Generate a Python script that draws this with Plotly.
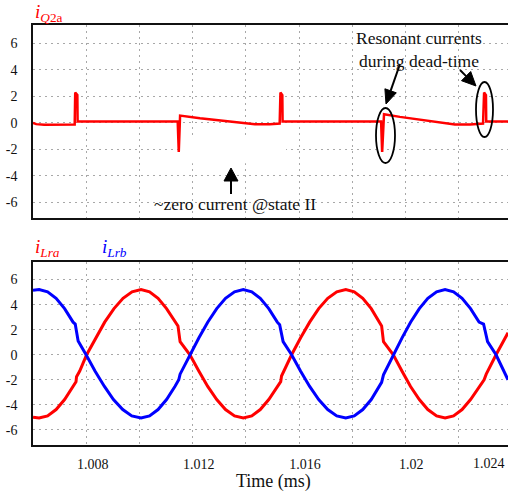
import plotly.graph_objects as go

# ---------------- data ----------------
# top panel: switch current i_Q2a
t_q2a = [1.00598, 1.00610, 1.00640, 1.00700, 1.00755, 1.00757, 1.00765, 1.00766,
         1.01143, 1.01147, 1.01152, 1.01227, 1.01302, 1.01378, 1.01434, 1.01490,
         1.01527, 1.01530, 1.01537, 1.01538, 1.01909, 1.01913, 1.01920, 1.01980,
         1.02056, 1.02131, 1.02187, 1.02244, 1.02293, 1.02297, 1.02304, 1.02305,
         1.02387]
i_q2a = [0.0, -0.1, -0.15, -0.15, -0.12, 2.3, 2.1, 0.1,
         0.1, -2.2, 0.55, 0.35, 0.17, 0.0, -0.1, -0.1,
         -0.05, 2.3, 2.1, 0.1, 0.1, -2.2, 0.65, 0.45,
         0.25, 0.0, -0.12, -0.12, -0.05, 2.3, 2.1, 0.1,
         0.1]

# bottom panel: resonant inductor currents
t_lra = [1.00598, 1.00621, 1.00653, 1.00685, 1.00717, 1.00749, 1.00760, 1.00762,
         1.00774, 1.00800, 1.00834, 1.00868, 1.00903, 1.00937, 1.00971, 1.01005,
         1.01037, 1.01069, 1.01101, 1.01133, 1.01144, 1.01152, 1.01189, 1.01223,
         1.01256, 1.01290, 1.01323, 1.01357, 1.01390, 1.01422, 1.01454, 1.01486,
         1.01518, 1.01531, 1.01534, 1.01572, 1.01606, 1.01640, 1.01674, 1.01708,
         1.01742, 1.01776, 1.01808, 1.01840, 1.01872, 1.01904, 1.01911, 1.01918,
         1.01955, 1.01988, 1.02020, 1.02053, 1.02085, 1.02118, 1.02150, 1.02182,
         1.02214, 1.02246, 1.02278, 1.02297, 1.02305, 1.02342, 1.02387]
i_lra = [-4.98, -5.05, -4.88, -4.37, -3.57, -2.52, -2.15, -1.75,
         -1.3, 0.0, 1.35, 2.6, 3.68, 4.5, 5.02, 5.2,
         5.02, 4.5, 3.68, 2.6, 2.3, 1.05, 0.0, -1.31,
         -2.53, -3.57, -4.37, -4.88, -5.05, -4.88, -4.37, -3.57,
         -2.52, -2.15, -1.7, 0.0, 1.35, 2.6, 3.68, 4.5,
         5.02, 5.2, 5.02, 4.5, 3.68, 2.6, 2.3, 1.05,
         0.0, -1.31, -2.53, -3.57, -4.37, -4.88, -5.05, -4.88,
         -4.37, -3.57, -2.52, -2.0, -1.55, 0.0, 1.75]

t_lrb = [1.00598, 1.00621, 1.00653, 1.00685, 1.00717, 1.00749, 1.00757, 1.00768,
         1.00798, 1.00832, 1.00867, 1.00901, 1.00936, 1.00970, 1.01005, 1.01037,
         1.01069, 1.01101, 1.01133, 1.01147, 1.01152, 1.01189, 1.01223, 1.01256,
         1.01290, 1.01323, 1.01357, 1.01390, 1.01422, 1.01454, 1.01486, 1.01518,
         1.01527, 1.01540, 1.01572, 1.01606, 1.01640, 1.01674, 1.01708, 1.01742,
         1.01776, 1.01808, 1.01840, 1.01872, 1.01904, 1.01911, 1.01918, 1.01955,
         1.01988, 1.02020, 1.02053, 1.02085, 1.02118, 1.02150, 1.02182, 1.02214,
         1.02246, 1.02278, 1.02295, 1.02310, 1.02342, 1.02387]
i_lrb = [5.15, 5.2, 5.02, 4.5, 3.68, 2.6, 2.45, 1.1,
         0.0, -1.31, -2.53, -3.57, -4.37, -4.88, -5.05, -4.88,
         -4.37, -3.57, -2.52, -2.0, -1.55, 0.0, 1.35, 2.6,
         3.68, 4.5, 5.02, 5.2, 5.02, 4.5, 3.68, 2.6,
         2.4, 1.05, 0.0, -1.31, -2.53, -3.57, -4.37, -4.88,
         -5.05, -4.88, -4.37, -3.57, -2.52, -2.2, -1.6, 0.0,
         1.35, 2.6, 3.68, 4.5, 5.02, 5.2, 5.02, 4.5,
         3.68, 2.6, 2.45, 1.05, 0.0, -2.0]

x_tickvals = [1.008, 1.012, 1.016, 1.020]
x_ticktext = ["1.008", "1.012", "1.016", "1.02"]
x_last_label = "1.024"
y_tickvals = [-6, -4, -2, 0, 2, 4, 6]
y_ticktext = ["-6", "-4", "-2", "0", "2", "4", "6"]

# ---------------- figure ----------------
W, H = 508, 492
ML, MR, MT, MB = 33, 0, 25, 47
PW, PH = W - ML - MR, H - MT - MB


def px(xp):
    return (xp - ML) / PW


def py(yp):
    return (H - MB - yp) / PH


SERIF = "Liberation Serif, Times New Roman, serif"
RED = "#ff0000"
BLUE = "#0000ff"
GRID = "#a8a8a8"
INK = "#111111"

fig = go.Figure()
fig.add_trace(go.Scatter(x=t_q2a, y=i_q2a, mode="lines", xaxis="x", yaxis="y",
                         line=dict(color=RED, width=2.5), showlegend=False))
fig.add_trace(go.Scatter(x=t_lra, y=i_lra, mode="lines", xaxis="x2", yaxis="y2",
                         line=dict(color=RED, width=3), showlegend=False))
fig.add_trace(go.Scatter(x=t_lrb, y=i_lrb, mode="lines", xaxis="x2", yaxis="y2",
                         line=dict(color=BLUE, width=3), showlegend=False))

xrange = [1.00598, 1.02387]
yrange = [-7.2, 7.4]

xcommon = dict(range=xrange, tickvals=x_tickvals, showgrid=True, gridcolor=GRID,
               griddash="2px,4px", gridwidth=1, showline=True, linecolor=INK,
               linewidth=1.5, mirror=True, zeroline=False, ticks="",
               minor=dict(tick0=1.008, dtick=0.002, showgrid=True, gridcolor=GRID,
                          griddash="2px,4px", gridwidth=1, ticks=""))
ycommon = dict(range=yrange, tickvals=y_tickvals, ticktext=y_ticktext, showgrid=True,
               gridcolor=GRID, griddash="2px,4px", gridwidth=1, showline=True,
               linecolor=INK, linewidth=1.5, zeroline=False, ticks="",
               ticklabelstandoff=11, tickfont=dict(family=SERIF, size=14, color=INK))

top_dom = [py(218), 1.0]
bot_dom = [0.0, py(262)]

fig.update_layout(
    width=W, height=H,
    margin=dict(l=ML, r=MR, t=MT, b=MB),
    plot_bgcolor="white", paper_bgcolor="white",
    xaxis=dict(**xcommon, anchor="y", showticklabels=False),
    yaxis=dict(**ycommon, domain=top_dom, anchor="x"),
    xaxis2=dict(**xcommon, anchor="y2", ticktext=x_ticktext, showticklabels=True,
                ticklabelshift=6, ticklabelstandoff=5,
                tickfont=dict(family=SERIF, size=14, color=INK)),
    yaxis2=dict(**ycommon, domain=bot_dom, anchor="x2"),
)

# white patch in the top panel (covers grid as in the reference)
fig.add_shape(type="rect", xref="x", yref="y", x0=1.01163, x1=1.01551, y0=-3.05, y1=-0.98,
              fillcolor="white", line=dict(width=0), layer="between")

ann = []
# panel labels
ann.append(dict(text="<i>i</i><sub><i>Q</i>2a</sub>", x=px(33), y=py(13), xref="paper", yref="paper",
                xanchor="left", yanchor="middle", showarrow=False,
                font=dict(family=SERIF, size=19, color=RED)))
ann.append(dict(text="<i>i<sub>Lra</sub></i>", x=px(33), y=py(248), xref="paper", yref="paper",
                xanchor="left", yanchor="middle", showarrow=False,
                font=dict(family=SERIF, size=19, color=RED)))
ann.append(dict(text="<i>i<sub>Lrb</sub></i>", x=px(100), y=py(248), xref="paper", yref="paper",
                xanchor="left", yanchor="middle", showarrow=False,
                font=dict(family=SERIF, size=19, color=BLUE)))
# axis title and clipped last tick label
ann.append(dict(text="Time (ms)", x=px(273), y=py(482), xref="paper", yref="paper",
                xanchor="center", yanchor="middle", showarrow=False,
                font=dict(family=SERIF, size=18, color=INK)))
ann.append(dict(text=x_last_label, x=px(489), y=py(463), xref="paper", yref="paper",
                xanchor="center", yanchor="middle", showarrow=False,
                font=dict(family=SERIF, size=14, color=INK)))
# text notes
ann.append(dict(text="~zero current @state II", x=px(234.5), y=py(204), xref="paper", yref="paper",
                xanchor="center", yanchor="middle", showarrow=False,
                font=dict(family=SERIF, size=17.5, color=INK)))
ann.append(dict(text="Resonant currents<br>during dead-time", x=px(419), y=py(49),
                xref="paper", yref="paper", xanchor="center", yanchor="middle",
                showarrow=False, font=dict(family=SERIF, size=17.5, color=INK)))
fig.update_layout(annotations=ann)

# arrows drawn as shapes: (tail, base-of-head, tip, half-width direction)
arrows = [
    ((231, 194), (231, 181), (231, 168), (7, 0)),
    ((400, 64), (390.6, 90.8), (386, 104), (5.7, 2.0)),
    ((460, 70), (466.1, 76.1), (476, 86), (-4.6, 4.6)),
]
for tail, base, tip, hw in arrows:
    fig.add_shape(type="line", xref="paper", yref="paper",
                  x0=px(tail[0]), y0=py(tail[1]), x1=px(base[0]), y1=py(base[1]),
                  line=dict(color="#000", width=2))
    c1 = (base[0] + hw[0], base[1] + hw[1])
    c2 = (base[0] - hw[0], base[1] - hw[1])
    path = "M {:.5f},{:.5f} L {:.5f},{:.5f} L {:.5f},{:.5f} Z".format(
        px(tip[0]), py(tip[1]), px(c1[0]), py(c1[1]), px(c2[0]), py(c2[1]))
    fig.add_shape(type="path", xref="paper", yref="paper", path=path,
                  fillcolor="#000", line=dict(color="#000", width=1))

# ellipses around the dead-time resonant currents
for (x0, x1, y0, y1) in [(376, 395, 108, 163), (476, 493, 82, 137)]:
    fig.add_shape(type="circle", xref="paper", yref="paper",
                  x0=px(x0), x1=px(x1), y0=py(y1), y1=py(y0),
                  line=dict(color="#000", width=1.8))

fig.write_html("out.html")
